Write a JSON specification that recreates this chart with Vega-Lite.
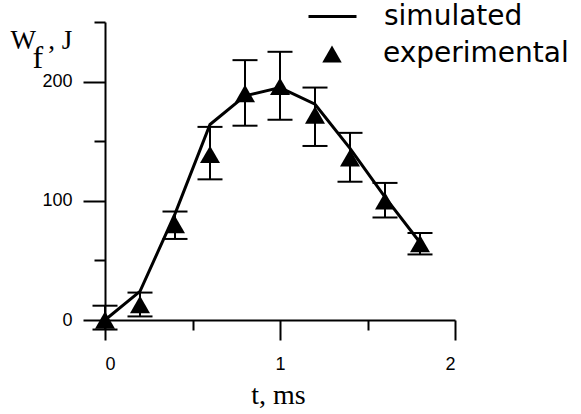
{
  "$schema": "https://vega.github.io/schema/vega-lite/v6.json",
  "width": 350,
  "height": 298,
  "autosize": "none",
  "padding": {"left": 105, "top": 22, "right": 126, "bottom": 94},
  "background": "white",
  "config": {
    "view": {"stroke": null},
    "axis": {"grid": false, "domainColor": "black", "domainWidth": 2, "tickColor": "black", "tickWidth": 2, "labelColor": "black", "labelFont": "Liberation Sans", "labelFontSize": 18, "titleColor": "black"}
  },
  "resolve": {"axis": {"y": "independent"}},
  "datasets": {
    "sim": [
      {"t": 0, "w": 0}, {"t": 0.2, "w": 24}, {"t": 0.4, "w": 89}, {"t": 0.6, "w": 164}, {"t": 0.8, "w": 188},
      {"t": 1.0, "w": 195}, {"t": 1.2, "w": 181}, {"t": 1.4, "w": 144}, {"t": 1.6, "w": 103}, {"t": 1.8, "w": 65}
    ],
    "exp": [
      {"t": 0, "w": 0, "lo": -8, "hi": 12},
      {"t": 0.2, "w": 13, "lo": 3, "hi": 23},
      {"t": 0.4, "w": 80, "lo": 68, "hi": 91},
      {"t": 0.6, "w": 139, "lo": 118, "hi": 162},
      {"t": 0.8, "w": 190, "lo": 163, "hi": 218},
      {"t": 1.0, "w": 196, "lo": 168, "hi": 225},
      {"t": 1.2, "w": 172, "lo": 146, "hi": 195},
      {"t": 1.4, "w": 136, "lo": 116, "hi": 157},
      {"t": 1.6, "w": 100, "lo": 86, "hi": 115},
      {"t": 1.8, "w": 64, "lo": 55, "hi": 73}
    ]
  },
  "layer": [
    {
      "data": {"name": "sim"},
      "mark": {"type": "line", "strokeWidth": 3},
      "encoding": {
        "x": {"field": "t", "type": "quantitative", "scale": {"domain": [0, 2], "nice": false},
          "axis": {"values": [0, 0.5, 1, 1.5, 2], "labelExpr": "datum.value % 1 === 0 ? format(datum.value, 'd') : ''",
            "tickSize": {"condition": {"test": "datum.value % 1 === 0", "value": 20}, "value": 10},
            "labelPadding": 15, "title": "t, ms", "titleFont": "Liberation Serif", "titleFontSize": 28, "titleFontWeight": "normal",
            "titleX": 173, "titleY": 83, "titleAlign": "center", "titleBaseline": "alphabetic"}},
        "y": {"field": "w", "type": "quantitative", "scale": {"domain": [0, 250], "nice": false},
          "axis": {"values": [0, 50, 100, 150, 200, 250], "labelExpr": "datum.value % 100 === 0 ? datum.label : ''",
            "tickSize": {"condition": {"test": "datum.value % 100 === 0", "value": 22}, "value": 11},
            "labelPadding": 11, "title": "W\u00a0\u2009, J", "titleAngle": 0, "titleX": -95, "titleY": 26, "titleAlign": "left", "titleBaseline": "alphabetic",
            "titleFont": "Liberation Serif", "titleFontSize": 27, "titleFontWeight": "normal"}},
        "color": {"datum": "simulated", "type": "nominal", "scale": {"range": ["black"]},
          "legend": {"orient": "none", "legendX": 202, "legendY": -31, "title": null, "symbolType": "stroke", "symbolSize": 2304, "symbolStrokeWidth": 3, "symbolStrokeColor": "black", "labelFont": "DejaVu Sans", "labelFontSize": 28, "labelColor": "black", "labelOffset": 26, "labelLimit": 400, "padding": 0}}
      }
    },
    {
      "data": {"name": "exp"},
      "mark": {"type": "rule", "strokeWidth": 2, "color": "black"},
      "encoding": {"x": {"field": "t", "type": "quantitative"}, "y": {"field": "lo", "type": "quantitative", "axis": null}, "y2": {"field": "hi"}}
    },
    {
      "data": {"name": "exp"},
      "mark": {"type": "tick", "orient": "horizontal", "size": 25, "thickness": 2, "color": "black", "opacity": 1},
      "encoding": {"x": {"field": "t", "type": "quantitative"}, "y": {"field": "lo", "type": "quantitative", "axis": null}}
    },
    {
      "data": {"name": "exp"},
      "mark": {"type": "tick", "orient": "horizontal", "size": 25, "thickness": 2, "color": "black", "opacity": 1},
      "encoding": {"x": {"field": "t", "type": "quantitative"}, "y": {"field": "hi", "type": "quantitative", "axis": null}}
    },
    {
      "data": {"name": "exp"},
      "mark": {"type": "point", "filled": true, "size": 400, "color": "black", "opacity": 1, "strokeWidth": 0},
      "encoding": {
        "x": {"field": "t", "type": "quantitative"},
        "y": {"field": "w", "type": "quantitative",
          "axis": {"orient": "right", "domain": false, "ticks": false, "labels": false, "title": "f", "titleAngle": 0, "titleX": -423, "titleY": 45, "titleAlign": "left", "titleBaseline": "alphabetic", "titleFont": "Liberation Serif", "titleFontSize": 32, "titleFontWeight": "normal"}},
        "shape": {"datum": "experimental", "type": "nominal", "scale": {"range": ["triangle-up"]},
          "legend": {"orient": "none", "legendX": 213, "legendY": 18, "title": null, "symbolSize": 380, "symbolFillColor": "black", "symbolStrokeColor": "black", "symbolStrokeWidth": 0, "symbolOpacity": 1, "labelFont": "DejaVu Sans", "labelFontSize": 28, "labelColor": "black", "labelOffset": 37, "labelLimit": 400, "padding": 0}}
      }
    }
  ]
}
